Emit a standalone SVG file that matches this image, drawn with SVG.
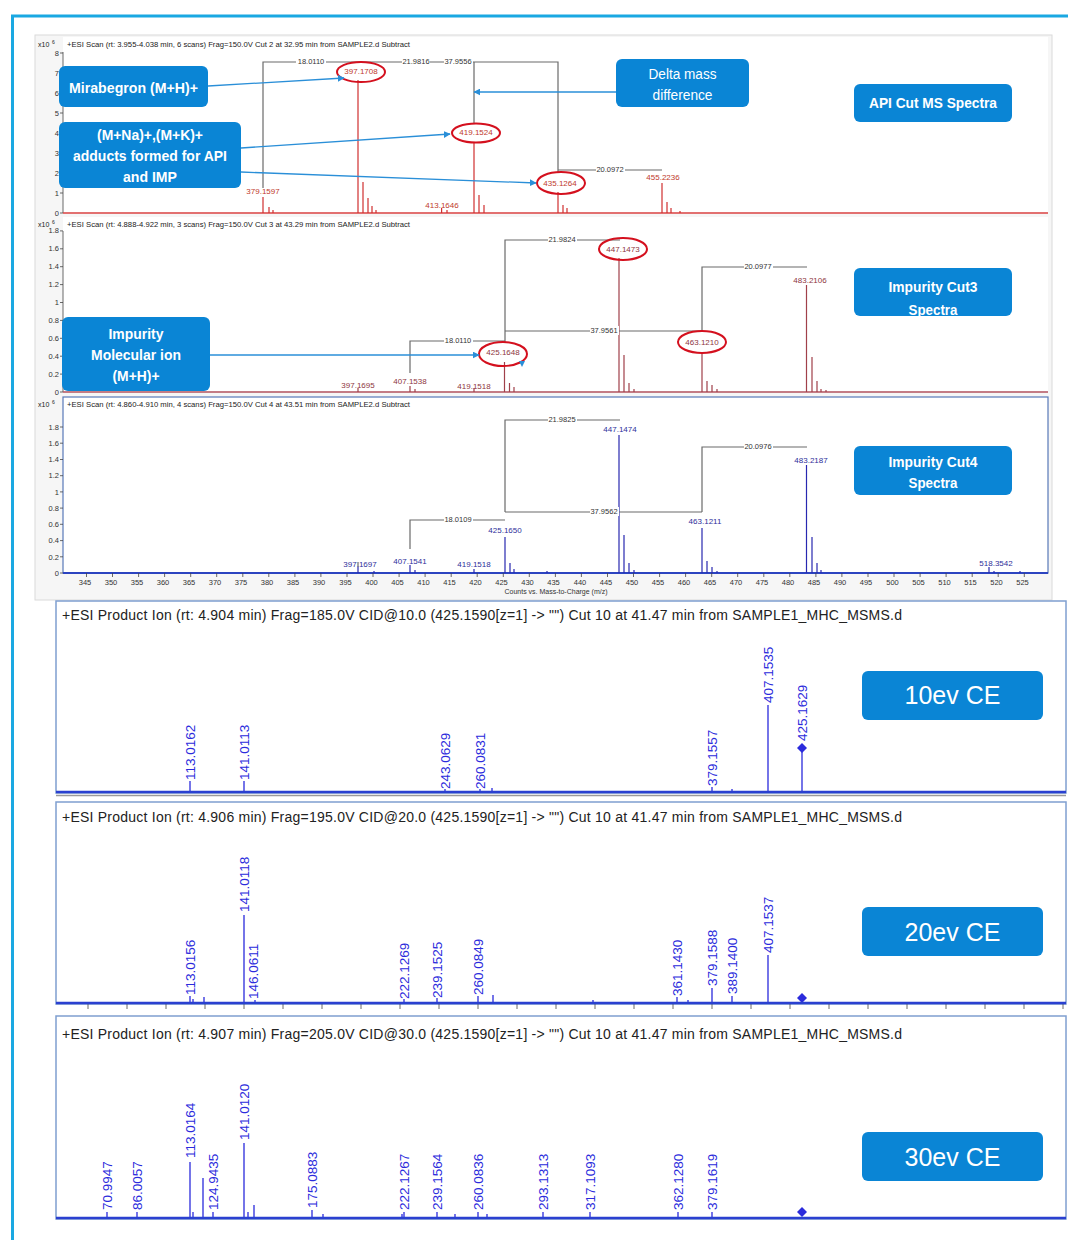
<svg xmlns="http://www.w3.org/2000/svg" width="1068" height="1240" viewBox="0 0 1068 1240">
<defs>
<style>
text{font-family:"Liberation Sans",Arial,sans-serif}
.hdr{font-size:7px;fill:#222}
.ax{font-size:7.5px;fill:#333}
.axr{font-size:7.5px;fill:#333;text-anchor:end}
.axc{font-size:7.5px;fill:#333;text-anchor:middle}
.p1{font-size:8px;fill:#c0392b;text-anchor:middle}
.p2{font-size:8px;fill:#8e3540;text-anchor:middle}
.p3{font-size:8px;fill:#2e2e9a;text-anchor:middle}
.dl{font-size:7.5px;fill:#333;text-anchor:middle}
.br{stroke:#6a6a6a;stroke-width:1.2;fill:none}
.s1{stroke:#d03030;stroke-width:1.2}
.s2{stroke:#a0404a;stroke-width:1.2}
.s3{stroke:#2828b0;stroke-width:1.2}
.ell{fill:none;stroke:#d4101e;stroke-width:2}
.box{fill:#0a85d5}
.bt{font-size:15px;font-weight:bold;fill:#fff;text-anchor:middle}
.nt{font-size:14px;fill:#fff;text-anchor:middle}
.ce{font-size:25px;fill:#fff;text-anchor:middle}
.arr{stroke:#2a8fd8;stroke-width:1.3;fill:none;marker-end:url(#ah)}
.mh{font-size:14px;fill:#222}
.ml{font-size:13.5px;fill:#2b2bdc}
.ms{stroke:#2b2bdc;stroke-width:1.3}
.frame{fill:#fff;stroke:#7f9fd0;stroke-width:1.5}
.tk{stroke:#444;stroke-width:0.8}
</style>
<marker id="ah" viewBox="0 0 10 10" refX="9" refY="5" markerWidth="7" markerHeight="7" orient="auto" markerUnits="userSpaceOnUse">
<path d="M0,0 L10,5 L0,10 z" fill="#2a8fd8"/>
</marker>
</defs>

<rect width="1068" height="1240" fill="#fff"/>
<path d="M11,16 H1068 M12.5,15 V1240" stroke="#1aa8e2" stroke-width="3" fill="none"/>

<!-- Top MS block -->
<g id="ms-block">
<rect x="35" y="35" width="1017" height="565" fill="#f6f6f6" stroke="#dadada"/>
<rect x="63" y="37" width="985" height="177" fill="#fff"/>
<rect x="63" y="217" width="985" height="176" fill="#fff"/>
<rect x="63" y="397" width="985" height="176" fill="#fff" stroke="#5878b8" stroke-width="1.2"/>
</g>

<!-- Panel 1 -->
<g id="panel1">
<text class="hdr" x="38" y="47">x10</text><text class="hdr" x="52" y="44" style="font-size:5px">6</text>
<text class="hdr" x="67" y="47" textLength="343" lengthAdjust="spacingAndGlyphs">+ESI Scan (rt: 3.955-4.038 min, 6 scans) Frag=150.0V Cut 2 at 32.95 min from SAMPLE2.d  Subtract</text>
<path class="tk" d="M63,52 V213 M60,213 H63 M60,193 H63 M60,173 H63 M60,153 H63 M60,133 H63 M60,113 H63 M60,93 H63 M60,73 H63 M60,53 H63"/>
<text class="axr" x="59" y="216">0</text><text class="axr" x="59" y="196">1</text><text class="axr" x="59" y="176">2</text><text class="axr" x="59" y="156">3</text><text class="axr" x="59" y="136">4</text><text class="axr" x="59" y="116">5</text><text class="axr" x="59" y="96">6</text><text class="axr" x="59" y="76">7</text><text class="axr" x="59" y="56">8</text>
<line x1="63" y1="213" x2="1048" y2="213" stroke="#d84040" stroke-width="1.6"/>
<path class="s1" d="M263,197 V213 M269,207 V213 M273,210 V213 M358,80 V213 M363,182 V213 M368,198 V213 M372,206 V213 M376,210 V213 M441.6,208 V213 M447,210 V213 M474,142 V213 M479,195 V213 M484,205 V213 M558,192 V213 M563,205 V213 M567,208 V213 M662,183 V213 M667,202 V213 M671,208 V213 M680,211 V213"/>
<path class="br" d="M263,188 V62 H558 V172 M474,62 V124 M558,170 H662"/>
<rect x="296" y="57" width="30" height="9" fill="#fff"/><text class="dl" x="311" y="64">18.0110</text>
<rect x="402" y="57" width="28" height="9" fill="#fff"/><text class="dl" x="416" y="64">21.9816</text>
<rect x="444" y="57" width="29" height="9" fill="#fff"/><text class="dl" x="458" y="64">37.9556</text>
<rect x="596" y="165" width="29" height="9" fill="#fff"/><text class="dl" x="610" y="172">20.0972</text>
<text class="p1" x="263" y="194">379.1597</text>
<text class="p1" x="361" y="74">397.1708</text>
<text class="p1" x="442" y="208">413.1646</text>
<text class="p1" x="476" y="135">419.1524</text>
<text class="p1" x="560" y="186">435.1264</text>
<text class="p1" x="663" y="180">455.2236</text>
<ellipse class="ell" cx="361" cy="72" rx="24" ry="10"/>
<ellipse class="ell" cx="476" cy="133" rx="24" ry="9.5"/>
<ellipse class="ell" cx="561" cy="183" rx="24" ry="11"/>
</g>

<!-- Panel 2 -->
<g id="panel2">
<text class="hdr" x="38" y="227">x10</text><text class="hdr" x="52" y="224" style="font-size:5px">6</text>
<text class="hdr" x="67" y="227" textLength="343" lengthAdjust="spacingAndGlyphs">+ESI Scan (rt: 4.888-4.922 min, 3 scans) Frag=150.0V Cut 3 at 43.29 min from SAMPLE2.d  Subtract</text>
<path class="tk" d="M63,231 V392 M60,392 H63 M60,374.1 H63 M60,356.2 H63 M60,338.3 H63 M60,320.4 H63 M60,302.5 H63 M60,284.6 H63 M60,266.7 H63 M60,248.8 H63 M60,230.9 H63"/>
<text class="axr" x="59" y="395">0</text><text class="axr" x="59" y="377">0.2</text><text class="axr" x="59" y="359">0.4</text><text class="axr" x="59" y="341">0.6</text><text class="axr" x="59" y="323">0.8</text><text class="axr" x="59" y="305">1</text><text class="axr" x="59" y="287">1.2</text><text class="axr" x="59" y="269">1.4</text><text class="axr" x="59" y="251">1.6</text><text class="axr" x="59" y="233">1.8</text>
<line x1="63" y1="392" x2="1048" y2="392" stroke="#b0505c" stroke-width="1.6"/>
<path class="s2" d="M358,388 V392 M410,386 V392 M415,389 V392 M474,388 V392 M504.5,362 V392 M509.5,383 V392 M514,387 V392 M619,258 V392 M624,355 V392 M629,383 V392 M634,389 V392 M702,352 V392 M707,381 V392 M712,385 V392 M717,389 V392 M806.5,285 V392 M812,357 V392 M817,381 V392 M821,389 V392 M826,390 V392"/>
<path class="br" d="M410,373 V341 H505 M505,343 V240 H620 M505,331 H702 M702,330 V267 H807"/>
<rect x="444" y="336" width="29" height="9" fill="#fff"/><text class="dl" x="458" y="343">18.0110</text>
<rect x="548" y="235" width="29" height="9" fill="#fff"/><text class="dl" x="562" y="242">21.9824</text>
<rect x="590" y="326" width="29" height="9" fill="#fff"/><text class="dl" x="604" y="333">37.9561</text>
<rect x="744" y="262" width="29" height="9" fill="#fff"/><text class="dl" x="758" y="269">20.0977</text>
<text class="p2" x="358" y="388">397.1695</text>
<text class="p2" x="410" y="384">407.1538</text>
<text class="p2" x="474" y="389">419.1518</text>
<text class="p2" x="503" y="355">425.1648</text>
<text class="p2" x="623" y="252">447.1473</text>
<text class="p2" x="702" y="345">463.1210</text>
<text class="p2" x="810" y="283">483.2106</text>
<ellipse class="ell" cx="623" cy="249" rx="24" ry="11"/>
<ellipse class="ell" cx="503" cy="354" rx="24" ry="12"/>
<ellipse class="ell" cx="702" cy="342" rx="24" ry="11"/>
<path d="M519,361 L525,361 L522,367 z" fill="#2a8fd8"/>
</g>

<!-- Panel 3 -->
<g id="panel3">
<text class="hdr" x="38" y="407">x10</text><text class="hdr" x="52" y="404" style="font-size:5px">6</text>
<text class="hdr" x="67" y="407" textLength="343" lengthAdjust="spacingAndGlyphs">+ESI Scan (rt: 4.860-4.910 min, 4 scans) Frag=150.0V Cut 4 at 43.51 min from SAMPLE2.d  Subtract</text>
<path class="tk" d="M60,573 H63 M60,556.8 H63 M60,540.6 H63 M60,524.3 H63 M60,508.1 H63 M60,491.9 H63 M60,475.7 H63 M60,459.5 H63 M60,443.2 H63 M60,427 H63"/>
<text class="axr" x="59" y="576">0</text><text class="axr" x="59" y="560">0.2</text><text class="axr" x="59" y="543">0.4</text><text class="axr" x="59" y="527">0.6</text><text class="axr" x="59" y="511">0.8</text><text class="axr" x="59" y="495">1</text><text class="axr" x="59" y="478">1.2</text><text class="axr" x="59" y="462">1.4</text><text class="axr" x="59" y="446">1.6</text><text class="axr" x="59" y="430">1.8</text>
<line x1="63" y1="573" x2="1048" y2="573" stroke="#2c44c0" stroke-width="2"/>
<path class="s3" d="M358,567 V573 M410,565 V573 M415,570 V573 M474,569 V573 M505,537 V573 M510,563 V573 M514,569 V573 M619,435 V573 M624,535 V573 M629,563 V573 M634,570 V573 M702,528 V573 M707,561 V573 M712,567 V573 M717,571 V573 M806.5,465 V573 M812,537 V573 M817,563 V573 M821,570 V573 M989,567 V573 M994,571 V573 M1020,571 V573 M374,571 V573 M547,571 V573"/>
<path class="br" d="M410,549 V520 H505 M505,512 V420 H620 M505,512 H702 M702,512 V447 H807 M358,562 V567"/>
<rect x="444" y="515" width="29" height="9" fill="#fff"/><text class="dl" x="458" y="522">18.0109</text>
<rect x="548" y="415" width="29" height="9" fill="#fff"/><text class="dl" x="562" y="422">21.9825</text>
<rect x="590" y="507" width="29" height="9" fill="#fff"/><text class="dl" x="604" y="514">37.9562</text>
<rect x="744" y="442" width="29" height="9" fill="#fff"/><text class="dl" x="758" y="449">20.0976</text>
<text class="p3" x="360" y="567">397.1697</text>
<text class="p3" x="410" y="564">407.1541</text>
<text class="p3" x="474" y="567">419.1518</text>
<text class="p3" x="505" y="533">425.1650</text>
<text class="p3" x="620" y="432">447.1474</text>
<text class="p3" x="705" y="524">463.1211</text>
<text class="p3" x="811" y="463">483.2187</text>
<text class="p3" x="996" y="566">518.3542</text>
<path class="tk" d="M86.5,573 V577 M112.5,573 V577 M138.6,573 V577 M164.6,573 V577 M190.7,573 V577 M216.7,573 V577 M242.8,573 V577 M268.8,573 V577 M294.9,573 V577 M320.9,573 V577 M347,573 V577 M373,573 V577 M399.1,573 V577 M425.1,573 V577 M451.2,573 V577 M477.2,573 V577 M503.3,573 V577 M529.3,573 V577 M555.4,573 V577 M581.4,573 V577 M607.5,573 V577 M633.5,573 V577 M659.6,573 V577 M685.6,573 V577 M711.7,573 V577 M737.7,573 V577 M763.8,573 V577 M789.8,573 V577 M815.9,573 V577 M841.9,573 V577 M868,573 V577 M894,573 V577 M920.1,573 V577 M946.1,573 V577 M972.2,573 V577 M998.2,573 V577 M1024.3,573 V577"/>
<g class="axc">
<text x="85" y="585">345</text><text x="111" y="585">350</text><text x="137" y="585">355</text><text x="163" y="585">360</text><text x="189" y="585">365</text><text x="215" y="585">370</text><text x="241" y="585">375</text><text x="267" y="585">380</text><text x="293" y="585">385</text><text x="319" y="585">390</text><text x="345.5" y="585">395</text><text x="371.5" y="585">400</text><text x="397.5" y="585">405</text><text x="423.5" y="585">410</text><text x="449.5" y="585">415</text><text x="475.5" y="585">420</text><text x="501.5" y="585">425</text><text x="527.5" y="585">430</text><text x="553.5" y="585">435</text><text x="580" y="585">440</text><text x="606" y="585">445</text><text x="632" y="585">450</text><text x="658" y="585">455</text><text x="684" y="585">460</text><text x="710" y="585">465</text><text x="736" y="585">470</text><text x="762" y="585">475</text><text x="788" y="585">480</text><text x="814" y="585">485</text><text x="840" y="585">490</text><text x="866" y="585">495</text><text x="892.5" y="585">500</text><text x="918.5" y="585">505</text><text x="944.5" y="585">510</text><text x="970.5" y="585">515</text><text x="996.5" y="585">520</text><text x="1022.5" y="585">525</text>
</g>
<text class="axc" x="556" y="594" style="font-size:7px">Counts vs. Mass-to-Charge (m/z)</text>
</g>

<!-- MS/MS panel 10ev -->
<g id="msms10">
<rect class="frame" x="56" y="601" width="1010" height="192" stroke="#9aa8c0"/>
<text class="mh" x="62" y="620" textLength="840" lengthAdjust="spacing">+ESI Product Ion (rt: 4.904 min) Frag=185.0V CID@10.0 (425.1590[z=1] -&gt; "") Cut 10 at 41.47 min from SAMPLE1_MHC_MSMS.d</text>
<line x1="56" y1="795.5" x2="1066" y2="795.5" stroke="#9a9a9a" stroke-width="1.5"/>
<path class="ms" d="M190,781 V792 M244,781 V792 M445,789 V792 M480,789 V792 M492,788 V792 M712,787 V792 M732,789 V792 M768,705 V792 M802,748 V792"/>
<path d="M802,743 L807,748 L802,753 L797,748 z" fill="#2b2bdc"/>
<line x1="56" y1="792" x2="1066" y2="792" stroke="#2a40d0" stroke-width="2.5"/>
<text class="ml" transform="translate(194.5,780) rotate(-90)">113.0162</text>
<text class="ml" transform="translate(248.5,780) rotate(-90)">141.0113</text>
<text class="ml" transform="translate(449.5,789) rotate(-90)">243.0629</text>
<text class="ml" transform="translate(484.5,789) rotate(-90)">260.0831</text>
<text class="ml" transform="translate(716.5,786) rotate(-90)">379.1557</text>
<text class="ml" transform="translate(772.5,703) rotate(-90)">407.1535</text>
<text class="ml" transform="translate(806.5,741) rotate(-90)">425.1629</text>
<rect class="box" x="862" y="671" width="181" height="49" rx="6"/>
<text class="ce" x="952.5" y="704">10ev CE</text>
</g>

<!-- MS/MS panel 20ev -->
<g id="msms20">
<rect class="frame" x="56" y="802" width="1010" height="202"/>
<text class="mh" x="62" y="822" textLength="840" lengthAdjust="spacing">+ESI Product Ion (rt: 4.906 min) Frag=195.0V CID@20.0 (425.1590[z=1] -&gt; "") Cut 10 at 41.47 min from SAMPLE1_MHC_MSMS.d</text>
<path class="tk" d="M88,1004 V1009 M127,1004 V1009 M166,1004 V1009 M205,1004 V1009 M244,1004 V1009 M283,1004 V1009 M322,1004 V1009 M361,1004 V1009 M400,1004 V1009 M439,1004 V1009 M478,1004 V1009 M517,1004 V1009 M556,1004 V1009 M595,1004 V1009 M634,1004 V1009 M673,1004 V1009 M712,1004 V1009 M751,1004 V1009 M790,1004 V1009 M829,1004 V1009 M868,1004 V1009 M907,1004 V1009 M946,1004 V1009 M985,1004 V1009 M1024,1004 V1009 M1063,1004 V1009"/>
<path class="ms" d="M190,996 V1003 M193,999 V1003 M204,997 V1003 M244,915 V1003 M255,1000 V1003 M404,999 V1003 M437,998 V1003 M478,996 V1003 M493,995 V1003 M593,1000 V1003 M677,997 V1003 M688,1000 V1003 M712,988 V1003 M732,996 V1003 M768,955 V1003"/>
<path d="M802,993 L807,998 L802,1003 L797,998 z" fill="#2b2bdc"/>
<line x1="56" y1="1003" x2="1066" y2="1003" stroke="#2a40d0" stroke-width="2.5"/>
<text class="ml" transform="translate(194.5,995) rotate(-90)">113.0156</text>
<text class="ml" transform="translate(248.5,912) rotate(-90)">141.0118</text>
<text class="ml" transform="translate(258,999) rotate(-90)">146.0611</text>
<text class="ml" transform="translate(408.5,999) rotate(-90)">222.1269</text>
<text class="ml" transform="translate(441.5,998) rotate(-90)">239.1525</text>
<text class="ml" transform="translate(482.5,995) rotate(-90)">260.0849</text>
<text class="ml" transform="translate(681.5,996) rotate(-90)">361.1430</text>
<text class="ml" transform="translate(716.5,986) rotate(-90)">379.1588</text>
<text class="ml" transform="translate(736.5,994) rotate(-90)">389.1400</text>
<text class="ml" transform="translate(772.5,953) rotate(-90)">407.1537</text>
<rect class="box" x="862" y="907" width="181" height="49" rx="6"/>
<text class="ce" x="952.5" y="941">20ev CE</text>
</g>

<!-- MS/MS panel 30ev -->
<g id="msms30">
<rect class="frame" x="56" y="1016" width="1010" height="203"/>
<text class="mh" x="62" y="1039" textLength="840" lengthAdjust="spacing">+ESI Product Ion (rt: 4.907 min) Frag=205.0V CID@30.0 (425.1590[z=1] -&gt; "") Cut 10 at 41.47 min from SAMPLE1_MHC_MSMS.d</text>
<path class="ms" d="M107,1212 V1218 M137,1212 V1218 M190,1162 V1218 M193,1212 V1218 M203,1178 V1218 M213,1212 V1218 M244,1143 V1218 M248,1212 V1218 M254,1205 V1218 M312,1210 V1218 M323,1214 V1218 M402,1214 V1218 M404,1212 V1218 M437,1212 V1218 M455,1214 V1218 M478,1212 V1218 M487,1214 V1218 M543,1212 V1218 M590,1212 V1218 M678,1212 V1218 M712,1212 V1218"/>
<path d="M802,1207 L807,1212 L802,1217 L797,1212 z" fill="#2b2bdc"/>
<line x1="56" y1="1218" x2="1066" y2="1218" stroke="#2a40d0" stroke-width="2.5"/>
<text class="ml" transform="translate(111.5,1210) rotate(-90)">70.9947</text>
<text class="ml" transform="translate(141.5,1210) rotate(-90)">86.0057</text>
<text class="ml" transform="translate(194.5,1158) rotate(-90)">113.0164</text>
<text class="ml" transform="translate(217.5,1210) rotate(-90)">124.9435</text>
<text class="ml" transform="translate(248.5,1140) rotate(-90)">141.0120</text>
<text class="ml" transform="translate(316.5,1208) rotate(-90)">175.0883</text>
<text class="ml" transform="translate(408.5,1210) rotate(-90)">222.1267</text>
<text class="ml" transform="translate(441.5,1210) rotate(-90)">239.1564</text>
<text class="ml" transform="translate(482.5,1210) rotate(-90)">260.0836</text>
<text class="ml" transform="translate(547.5,1210) rotate(-90)">293.1313</text>
<text class="ml" transform="translate(594.5,1210) rotate(-90)">317.1093</text>
<text class="ml" transform="translate(682.5,1210) rotate(-90)">362.1280</text>
<text class="ml" transform="translate(716.5,1210) rotate(-90)">379.1619</text>
<rect class="box" x="862" y="1132" width="181" height="49" rx="6"/>
<text class="ce" x="952.5" y="1166">30ev CE</text>
</g>

<!-- Annotation boxes -->
<g id="box-mirabegron">
<rect class="box" x="59" y="66" width="149" height="41" rx="6"/>
<text class="bt" x="133.5" y="93" textLength="129" lengthAdjust="spacingAndGlyphs">Mirabegron (M+H)+</text>
</g>
<g id="box-adducts">
<rect class="box" x="59" y="122" width="182" height="66" rx="6"/>
<text class="bt" x="150" y="140" textLength="106" lengthAdjust="spacingAndGlyphs">(M+Na)+,(M+K)+</text>
<text class="bt" x="150" y="161" textLength="154" lengthAdjust="spacingAndGlyphs">adducts formed for API</text>
<text class="bt" x="150" y="182" textLength="54" lengthAdjust="spacingAndGlyphs">and IMP</text>
</g>
<g id="box-delta">
<rect class="box" x="616" y="59" width="133" height="48" rx="6"/>
<text class="nt" x="682.5" y="79" textLength="68" lengthAdjust="spacingAndGlyphs">Delta mass</text>
<text class="nt" x="682.5" y="100" textLength="60" lengthAdjust="spacingAndGlyphs">difference</text>
</g>
<g id="box-api">
<rect class="box" x="854" y="84" width="158" height="38" rx="6"/>
<text class="bt" x="933" y="108" textLength="128" lengthAdjust="spacingAndGlyphs">API Cut MS Spectra</text>
</g>
<g id="box-cut3">
<rect class="box" x="854" y="268" width="158" height="48" rx="6"/>
<text class="bt" x="933" y="292" textLength="89" lengthAdjust="spacingAndGlyphs">Impurity Cut3</text>
<text class="bt" x="933" y="315" textLength="49" lengthAdjust="spacingAndGlyphs">Spectra</text>
</g>
<g id="box-cut4">
<rect class="box" x="854" y="446" width="158" height="49" rx="6"/>
<text class="bt" x="933" y="467" textLength="89" lengthAdjust="spacingAndGlyphs">Impurity Cut4</text>
<text class="bt" x="933" y="488" textLength="49" lengthAdjust="spacingAndGlyphs">Spectra</text>
</g>
<g id="box-impurity">
<rect class="box" x="62" y="317" width="148" height="74" rx="6"/>
<text class="bt" x="136" y="339" textLength="55" lengthAdjust="spacingAndGlyphs">Impurity</text>
<text class="bt" x="136" y="360" textLength="90" lengthAdjust="spacingAndGlyphs">Molecular ion</text>
<text class="bt" x="136" y="381" textLength="47" lengthAdjust="spacingAndGlyphs">(M+H)+</text>
</g>

<!-- Connectors -->
<g id="connectors">
<path class="arr" d="M208,86 L344,78"/>
<path class="arr" d="M241,148 L450,134"/>
<path class="arr" d="M241,172 L536,183"/>
<path class="arr" d="M616,92 L474,92"/>
<path class="arr" d="M210,355 L479,355"/>
</g>
</svg>
